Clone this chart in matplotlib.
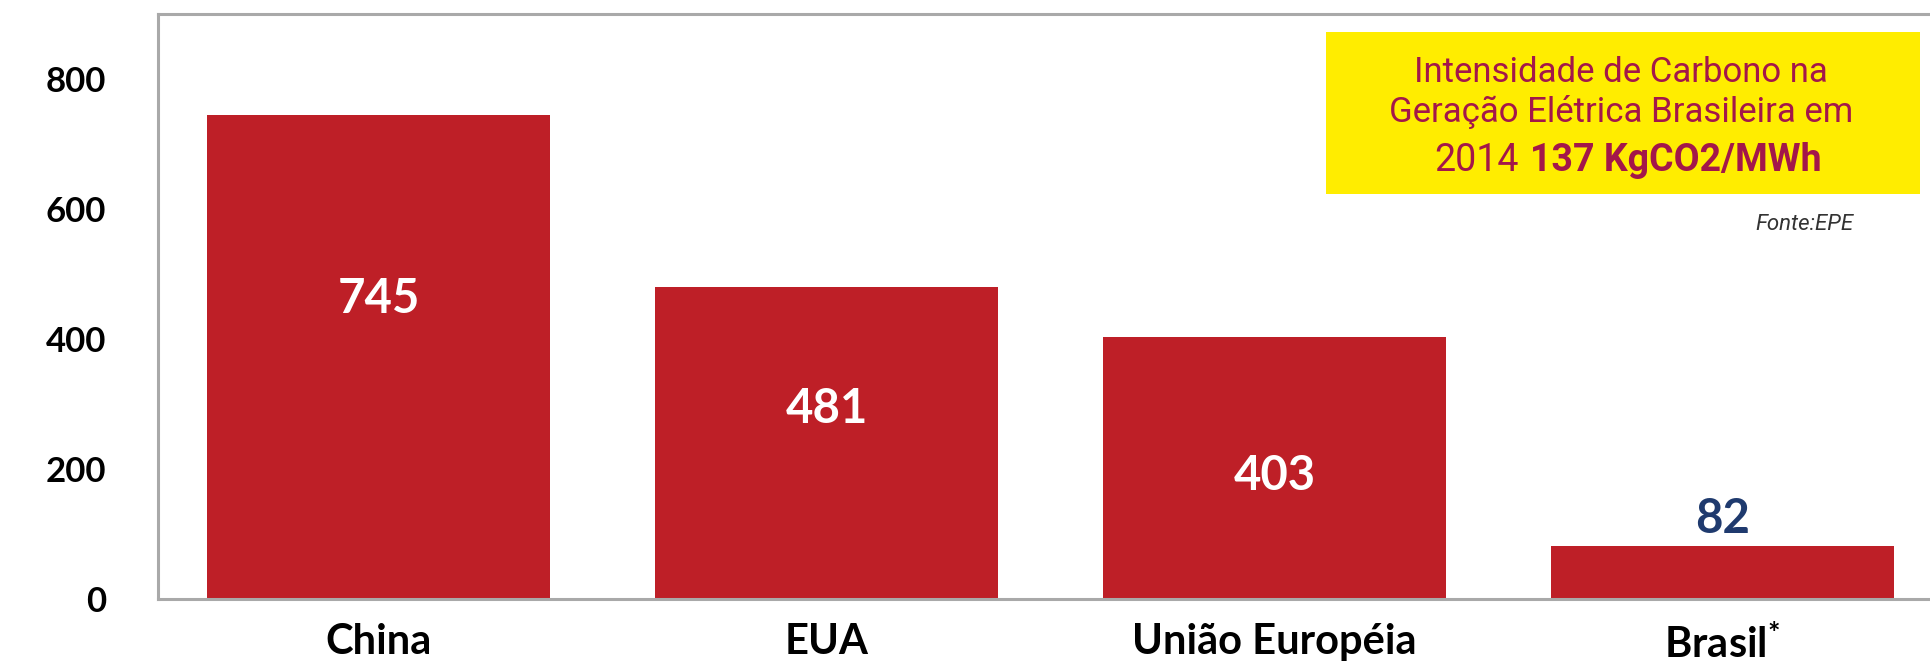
import matplotlib.pyplot as plt

# emission intensity of electricity generation (kgCO2/MWh)
countries = ['China', 'EUA', 'União Européia', 'Brasil$^{*}$']
intensity = [745, 481, 403, 82]
label_y = [462, 293, 190, 123]   # where each value label sits
yticks = [0, 200, 400, 600, 800]

bar_red = '#be1f27'
spine_grey = '#a9a9a9'

plt.rcParams['font.family'] = ['Lato', 'DejaVu Sans']
plt.rcParams['mathtext.fontset'] = 'custom'
plt.rcParams['mathtext.rm'] = 'Lato:bold'
plt.rcParams['mathtext.it'] = 'Lato:bold'

fig = plt.figure(figsize=(19.3, 6.67), dpi=100)
ax = fig.add_axes([0.0817, 0.1012, 0.9183, 0.8778])

x = range(len(countries))
ax.bar(x, intensity, width=0.766, color=bar_red, zorder=2)

ax.set_xlim(-0.494, 3.463)
ax.set_ylim(0, 900)
ax.set_yticks(yticks)
ax.set_yticklabels([str(t) for t in yticks], fontsize=25, fontweight='bold')
ax.set_xticks(list(x))
ax.set_xticklabels(countries, fontsize=30, fontweight='bold')
ax.tick_params(axis='y', length=0, pad=37)
ax.tick_params(axis='x', length=0, pad=17)

for side in ['left', 'top', 'bottom']:
    ax.spines[side].set_color(spine_grey)
    ax.spines[side].set_linewidth(2.2)
ax.spines['right'].set_visible(False)

# value labels: white inside the tall bars, navy above the short one
for i, (v, y) in enumerate(zip(intensity, label_y)):
    color = '#1f3a6e' if i == len(intensity) - 1 else 'white'
    ax.text(i, y, str(v), ha='center', va='center', color=color,
            fontsize=34, fontweight='bold', zorder=3)

# highlighted note box
box_color = '#a3174a'
fig.patches.append(plt.Rectangle((1326 / 1930, 1 - 194 / 667), 594 / 1930, 162 / 667,
                                 transform=fig.transFigure, facecolor='#ffed00',
                                 edgecolor='none', zorder=5))
fig.text(1621 / 1930, 1 - 73 / 667, 'Intensidade de Carbono na', ha='center', va='center',
         fontsize=25, color=box_color, family='Roboto', zorder=6)
fig.text(1621 / 1930, 1 - 112 / 667, 'Geração Elétrica Brasileira em', ha='center', va='center',
         fontsize=25, color=box_color, family='Roboto', zorder=6)
fig.text(1519 / 1930, 1 - 160 / 667, '2014', ha='right', va='center',
         fontsize=27, color=box_color, family='Roboto', zorder=6)
fig.text(1530 / 1930, 1 - 160 / 667, '137 KgCO2/MWh', ha='left', va='center',
         fontsize=27, color=box_color, family='Roboto', fontweight='bold', zorder=6)

fig.text(1804 / 1930, 1 - 225 / 667, 'Fonte:EPE', ha='center', va='center',
         fontsize=16, color='#333333', style='italic', family='Roboto')

fig.savefig('out.png', dpi=100)
